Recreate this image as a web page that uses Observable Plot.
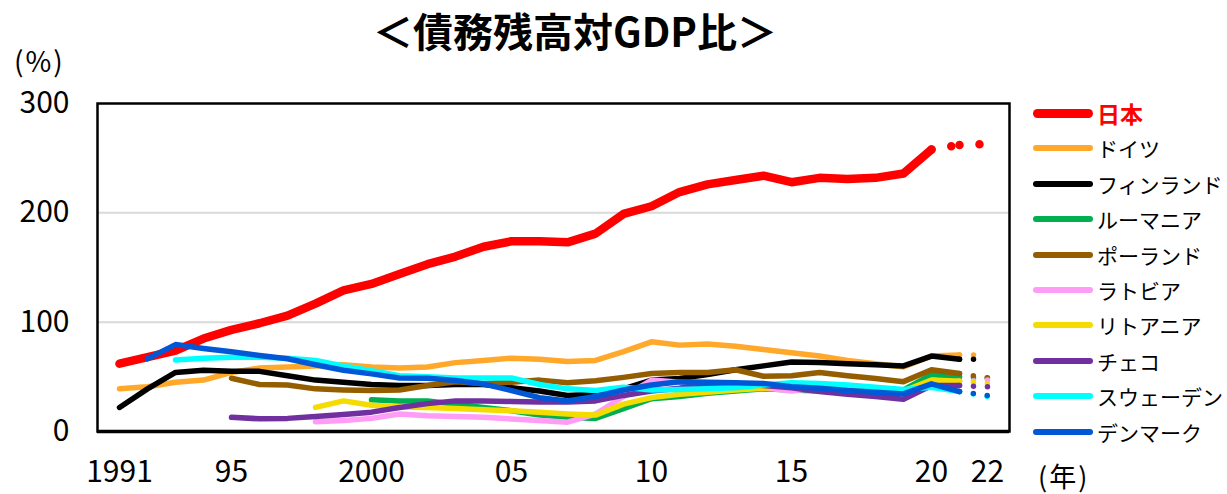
<!DOCTYPE html>
<html><head><meta charset="utf-8">
<script src="https://cdn.jsdelivr.net/npm/d3@7"></script>
<script src="https://cdn.jsdelivr.net/npm/@observablehq/plot@0.6"></script>
<style>
body{margin:0;background:#fff;font-family:"Noto Sans CJK JP","Noto Sans",sans-serif;}
#wrap{position:relative;width:1227px;height:494px;overflow:hidden;}
#wrap svg{position:absolute;left:0;top:0;}
.ov{position:absolute;white-space:nowrap;color:#000;}
#title{left:0;width:1150px;text-align:center;top:6px;font-size:40px;font-weight:bold;line-height:48px;}
#unit{left:14px;top:46px;font-size:28px;line-height:28px;letter-spacing:2px;}
#nen{left:1038px;top:461px;font-size:27px;line-height:30px;letter-spacing:2px;}
.leg{position:absolute;left:1033px;height:30px;display:flex;align-items:center;}
.leg .sw{width:60px;border-radius:6px;margin-right:4px;}
.leg .tx{font-size:21px;line-height:30px;}
</style></head>
<body>
<div id="wrap">
  <div id="chart"></div>
  <div class="ov" id="title">＜債務残高対GDP比＞</div>
  <div class="ov" id="unit">(%)</div>
  <div class="ov" id="nen">(年)</div>
  <div id="legend"></div>
</div>
<script>
const years = d3.range(1991, 2023);
const countries = ["日本","ドイツ","フィンランド","ルーマニア","ポーランド","ラトビア","リトアニア","チェコ","スウェーデン","デンマーク"];
const colors = ["#ff0000","#ffa82a","#000000","#00b050","#935d00","#ff9cf5","#f5dc00","#7030a0","#00ffff","#0058d6"];
const N = null;
// values 1991..2022
const japan     = [62,68,74,85,93,99,106,117,129,135,144,153,160,169,174,174,173,181,199,206,219,226,230,234,228,232,231,232,236,258,262,263];
const germany   = [39,41,45,47,54,58,59,60,61,59,58,59,63,65,67,66,64,65,73,82,79,80,78,75,72,69,65,62,59,69,70,70];
const finland   = [22,39,54,56,55,55,51,47,45,43,42,42,43,43,40,37,33,34,39,47,48.5,52,56.5,60,63.5,63,62,61,60,69,66,66];
const romania   = [N,N,N,N,N,N,N,N,N,29,28,28,25,22,19,15,13,12,21,30,32,35,37,39,38,37,36,36,38,52,50,49];
const poland    = [N,N,N,N,48.7,43,42.6,39,38,37.5,38,42,45.5,44,45,47,44.5,46.5,49.5,53,54,54,56.5,50.5,51,54,51,48.5,45.6,56.5,53,49];
const latvia    = [N,N,N,N,N,N,N,9,10,12,16,14.5,13.7,13,11.5,10,8.5,16,32,47,45,42,40,40,37,40,39,37,36.5,45,46,47];
const lithuania = [N,N,N,N,N,N,N,22,28,24,22.5,22,21,20,19,17.5,16,15,25,31,34,36,38,39.5,42,40,39,35,37,47,46,44];
const czech     = [N,N,N,N,13,11.6,12,13.7,15.5,17.7,22,25.5,28,28,27.5,27,27,28,33,37,39.5,44,44,42,40,36.5,34,32,29.5,42,42,41];
const sweden    = [N,N,65.5,67,68,68,67,65,60,55.7,51,50,49,49,49,43,39,37.5,40.5,38,38.4,39,40,42.5,44.5,44,42.6,40.5,38.4,40.5,36.5,32];
const denmark   = [N,66.5,79.5,76,73,69.6,66.5,61,56,52.7,49,48.7,46.6,43.5,37.4,31,28,32,38,42.6,45.6,45,44.6,44,41,39.6,37.4,36,34.4,43.6,36.5,33];
const series = [japan,germany,finland,romania,poland,latvia,lithuania,czech,sweden,denmark];
const solidEnd = [2020,2021,2021,2021,2021,2021,2021,2021,2021,2021];
const xTicks = [1991,1995,2000,2005,2010,2015,2020,2022];
const yTicks = [0,100,200,300];

const marks = [
  Plot.ruleY([100,200], {stroke:"#d9d9d9", strokeWidth:2})
];
series.forEach((vals, i) => {
  const rows = years.map((y, k) => ({year:y, value:vals[k]})).filter(d => d.value != null);
  const solid = rows.filter(d => d.year <= solidEnd[i]);
  const proj = [];
  rows.filter(d => d.year >= solidEnd[i]).forEach((d, k, arr) => {
    if (k < arr.length - 1) {
      proj.push({seg:k, year:d.year, value:d.value});
      proj.push({seg:k, year:arr[k+1].year, value:arr[k+1].value});
    }
  });
  const w = i === 0 ? 8.5 : 5.5;
  marks.push(Plot.line(solid, {x:"year", y:"value", stroke:colors[i], strokeWidth:w, strokeLinejoin:"round", strokeLinecap:"round"}));
  marks.push(Plot.line(proj, {x:"year", y:"value", z:"seg", stroke:colors[i], strokeWidth:w, strokeLinecap:"round", strokeDasharray: i === 0 ? "0 20" : "0 14"}));
});
marks.push(Plot.frame({stroke:"#000", strokeWidth:2.5}));
marks.push(Plot.ruleY([0], {stroke:"#000", strokeWidth:3.5}));
marks.push(Plot.axisX({ticks:xTicks, tickSize:0, tickPadding:29, fontSize:30, tickFormat:d => (d===1991||d===2000) ? String(d) : String(d).slice(2)}));
marks.push(Plot.axisY({ticks:yTicks, tickSize:0, tickPadding:28, fontSize:30}));

const chart = Plot.plot({
  width:1227, height:494,
  marginLeft:97, marginRight:218, marginTop:103, marginBottom:63,
  style:{fontFamily:'"Noto Sans CJK JP","Noto Sans",sans-serif', color:"#000", background:"transparent"},
  x:{type:"point", domain:years, padding:0.5, label:null},
  y:{domain:[0,300], label:null},
  marks
});
document.getElementById("chart").appendChild(chart);

const legend = document.getElementById("legend");
countries.forEach((c, i) => {
  const item = document.createElement("div");
  item.className = "leg";
  item.style.top = (113 + i*35.4 - 15) + "px";
  const sw = document.createElement("div");
  sw.className = "sw";
  sw.style.height = (i===0 ? 9 : 6) + "px";
  sw.style.background = colors[i];
  const tx = document.createElement("span");
  tx.className = "tx";
  tx.textContent = c;
  if (i === 0) { tx.style.color = "#ff0000"; tx.style.fontWeight = "bold"; tx.style.fontSize = "23px"; }
  item.appendChild(sw); item.appendChild(tx);
  legend.appendChild(item);
});
</script>
</body></html>
